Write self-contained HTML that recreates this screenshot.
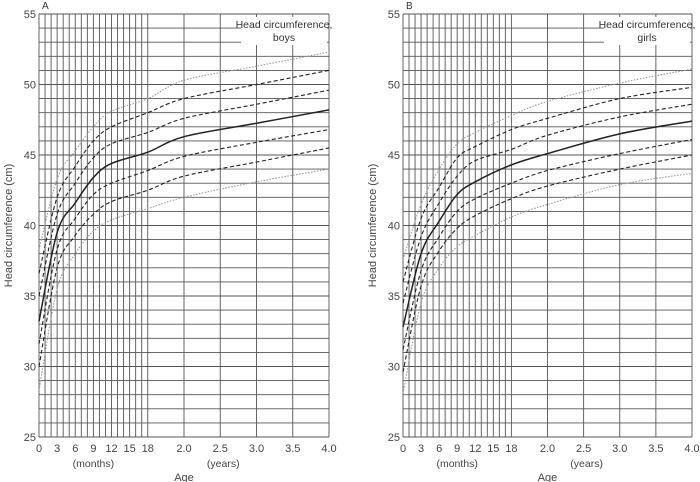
<!DOCTYPE html>
<html><head><meta charset="utf-8"><style>
html,body{margin:0;padding:0;background:#fff}
svg{display:block;font-family:"Liberation Sans",sans-serif}
</style></head><body>
<svg id="chart" width="700" height="482" viewBox="0 0 700 482" xmlns="http://www.w3.org/2000/svg"></svg>
<script>
const ages = [0,3,6,9,12,18,24,36,48];
const percentileNames = ['p3','p10','p25','p50','p75','p90','p97'];
const boysP3  = [28.3,35.5,38.0,39.6,40.4,41.2,42.0,43.1,44.0];
const boysP10 = [30.0,37.0,39.3,40.8,41.7,42.5,43.5,44.5,45.5];
const boysP25 = [31.6,38.3,40.5,42.2,43.0,43.9,44.9,45.9,46.8];
const boysP50 = [33.2,39.5,41.6,43.4,44.4,45.2,46.3,47.25,48.2];
const boysP75 = [35.0,40.8,43.0,44.8,45.8,46.6,47.6,48.6,49.6];
const boysP90 = [36.6,42.0,44.2,46.0,47.0,48.0,49.0,50.0,51.0];
const boysP97 = [38.3,43.3,45.3,47.0,48.1,49.0,50.3,51.3,52.3];
const girlsP3  = [28.1,34.5,37.0,38.5,39.3,40.6,41.5,42.9,43.7];
const girlsP10 = [29.6,35.7,38.2,39.8,40.7,41.9,42.8,44.0,45.0];
const girlsP25 = [31.2,36.8,39.2,41.0,41.9,43.0,43.9,45.1,46.1];
const girlsP50 = [32.8,38.0,40.3,42.2,43.1,44.3,45.1,46.5,47.4];
const girlsP75 = [34.5,39.2,41.6,43.5,44.6,45.4,46.4,47.7,48.6];
const girlsP90 = [36.0,40.5,42.7,44.8,45.6,46.8,47.6,49.0,49.8];
const girlsP97 = [37.6,41.5,44.0,45.8,46.6,47.8,48.8,50.1,51.1];
const xTickMonths = [0,3,6,9,12,15,18,24,30,36,42,48];
const xTickLabels = ['0','3','6','9','12','15','18','2.0','2.5','3.0','3.5','4.0'];
const yTicks = [25,30,35,40,45,50,55];

const NS='http://www.w3.org/2000/svg';
const svg=document.getElementById('chart');
function mk(tag,attrs,parent){const e=document.createElementNS(NS,tag);for(const k in attrs)e.setAttribute(k,attrs[k]);(parent||svg).appendChild(e);return e;}

function drawPanel(cfg){
  const g=mk('g',{});
  
  
  const X=m=>cfg.x0+(cfg.x1-cfg.x0)*m/48;
  const Y=v=>cfg.y0-(cfg.y0-cfg.y1)*(v-25)/30;
  const grid=mk('g',{stroke:'#555','stroke-width':'0.9'},g);
  
  
  for(let v=25;v<=55;v++) mk('line',{x1:X(0),x2:X(48),y1:Y(v),y2:Y(v)},grid);
  const vm=[];for(let m=0;m<=18;m++)vm.push(m);[24,30,36,42,48].forEach(m=>vm.push(m));
  vm.forEach(m=>mk('line',{x1:X(m),x2:X(m),y1:Y(25),y2:Y(55)},grid));
  // title box
  const tb=mk('rect',{x:X(48)-88,y:Y(55)+3,width:86,height:28,fill:'#fff'},g);
  
  
  const t1=mk('text',{x:X(48)-45,y:Y(55)+14,'text-anchor':'middle','font-size':'10.5',fill:'#333'},g);t1.textContent='Head circumference,';
  
  
  const t2=mk('text',{x:X(48)-45,y:Y(55)+27,'text-anchor':'middle','font-size':'10.5',fill:'#333'},g);t2.textContent=cfg.sex;
  
  
  // curves
  const styles=[{s:'#999',w:1.1,d:'1.5,1.5'},{s:'#222',w:1.1,d:'4,2.5'},{s:'#222',w:1.1,d:'4,2.5'},{s:'#222',w:1.5,d:''},{s:'#222',w:1.1,d:'4,2.5'},{s:'#222',w:1.1,d:'4,2.5'},{s:'#999',w:1.1,d:'1.5,1.5'}];
  cfg.series.forEach((vals,i)=>{
    const pts=ages.map((a,j)=>[X(a),Y(vals[j])]);
    let d='M'+pts[0][0]+','+pts[0][1];
    for(let j=0;j<pts.length-1;j++){
      const p0=pts[Math.max(0,j-1)],p1=pts[j],p2=pts[j+1],p3=pts[Math.min(pts.length-1,j+2)];
      const c1=[p1[0]+(p2[0]-p0[0])/6,p1[1]+(p2[1]-p0[1])/6];
      const c2=[p2[0]-(p3[0]-p1[0])/6,p2[1]-(p3[1]-p1[1])/6];
      d+=' C'+c1+' '+c2+' '+p2;
    }
    const p=mk('path',{d:d,fill:'none',stroke:styles[i].s,'stroke-width':styles[i].w,'stroke-dasharray':styles[i].d},g);
    
    
  });
  // y ticks
  yTicks.forEach(v=>{
    const t=mk('text',{x:cfg.x0-3,y:Y(v)+4,'text-anchor':'end','font-size':'11',fill:'#444'},g);t.textContent=v;
    
    
  });
  xTickMonths.forEach((m,i)=>{
    const t=mk('text',{x:X(m),y:Y(25)+15,'text-anchor':'middle','font-size':'11',fill:'#444'},g);t.textContent=xTickLabels[i];
    
    
  });
  const mo=mk('text',{x:X(9),y:Y(25)+30,'text-anchor':'middle','font-size':'10.5',fill:'#444'},g);mo.textContent='(months)';
  
  
  const yr=mk('text',{x:X(30.5),y:Y(25)+30,'text-anchor':'middle','font-size':'10.5',fill:'#444'},g);yr.textContent='(years)';
  
  
  const ag=mk('text',{x:X(24),y:Y(25)+44,'text-anchor':'middle','font-size':'11',fill:'#444'},g);ag.textContent='Age';
  
  
  const yt=mk('text',{x:0,y:0,'text-anchor':'middle','font-size':'11',fill:'#444',transform:'translate('+(cfg.x0-27)+','+((cfg.y0+cfg.y1)/2)+') rotate(-90)'},g);yt.textContent='Head circumference (cm)';
  
  
  const pl=mk('text',{x:cfg.x0+3,y:9,'font-size':'10',fill:'#333'},g);pl.textContent=cfg.label;
  
  
}
drawPanel({name:'boys-panel',label:'A',sex:'boys',x0:39,x1:329,y0:437,y1:14,series:[boysP3,boysP10,boysP25,boysP50,boysP75,boysP90,boysP97]});
drawPanel({name:'girls-panel',label:'B',sex:'girls',x0:403,x1:692,y0:437,y1:14,series:[girlsP3,girlsP10,girlsP25,girlsP50,girlsP75,girlsP90,girlsP97]});
</script>
</body></html>
